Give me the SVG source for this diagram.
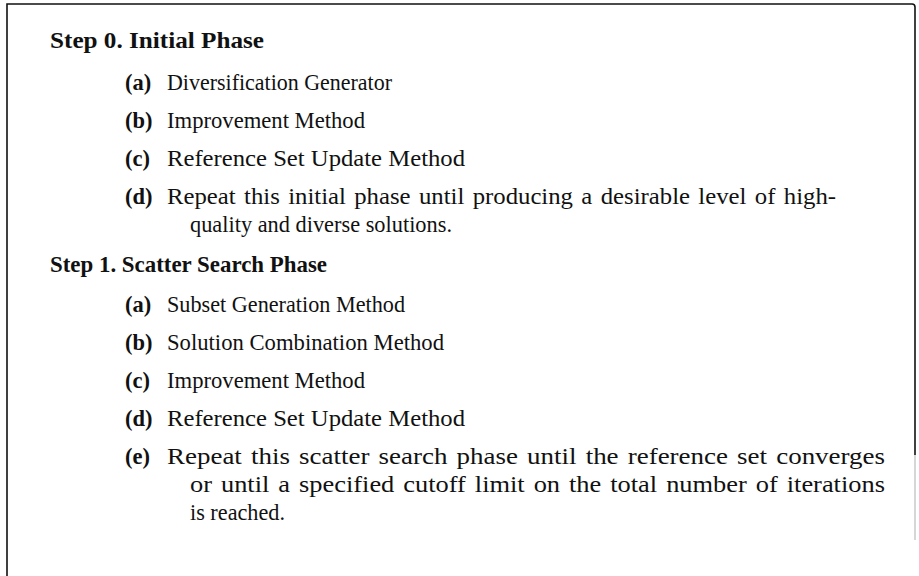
<svg xmlns="http://www.w3.org/2000/svg" width="919" height="576" viewBox="0 0 919 576">
<style>
text{font-family:"Liberation Serif","DejaVu Serif",serif;font-size:22.5px;fill:#111}
.b{font-weight:bold}
.j{word-spacing:2px}
.frame{fill:none;stroke:#111;stroke-width:1.6}
</style>
<rect width="919" height="576" fill="#fff"/>
<g id="frame">
<path class="frame" d="M7,576 V4 H912 Q915,4 915,7 V455"/>
<path d="M915,455 V540" fill="none" stroke="#bbb" stroke-width="1.2"/>
</g>
<g id="step0">
<text class="b" x="50" y="48" textLength="214" lengthAdjust="spacingAndGlyphs">Step 0.  Initial Phase</text>
<text class="b" x="125" y="90">(a)</text><text x="167" y="90" textLength="225" lengthAdjust="spacingAndGlyphs">Diversification Generator</text>
<text class="b" x="125" y="128">(b)</text><text x="167" y="128" textLength="198" lengthAdjust="spacingAndGlyphs">Improvement Method</text>
<text class="b" x="125" y="166">(c)</text><text x="167" y="166" textLength="298" lengthAdjust="spacingAndGlyphs">Reference Set Update Method</text>
<text class="b" x="125" y="204">(d)</text><text class="j" x="167" y="204" textLength="669" lengthAdjust="spacingAndGlyphs">Repeat this initial phase until producing a desirable level of high-</text>
<text x="190" y="232" textLength="262" lengthAdjust="spacingAndGlyphs">quality and diverse solutions.</text>
</g>
<g id="step1">
<text class="b" x="50" y="272" textLength="277" lengthAdjust="spacingAndGlyphs">Step 1.  Scatter Search Phase</text>
<text class="b" x="125" y="312">(a)</text><text x="167" y="312" textLength="238" lengthAdjust="spacingAndGlyphs">Subset Generation Method</text>
<text class="b" x="125" y="350">(b)</text><text x="167" y="350" textLength="277" lengthAdjust="spacingAndGlyphs">Solution Combination Method</text>
<text class="b" x="125" y="388">(c)</text><text x="167" y="388" textLength="198" lengthAdjust="spacingAndGlyphs">Improvement Method</text>
<text class="b" x="125" y="426">(d)</text><text x="167" y="426" textLength="298" lengthAdjust="spacingAndGlyphs">Reference Set Update Method</text>
<text class="b" x="125" y="464">(e)</text><text class="j" x="167" y="464" textLength="718" lengthAdjust="spacingAndGlyphs">Repeat this scatter search phase until the reference set converges</text>
<text class="j" x="190" y="492" textLength="695" lengthAdjust="spacingAndGlyphs">or until a specified cutoff limit on the total number of iterations</text>
<text x="190" y="520" textLength="95" lengthAdjust="spacingAndGlyphs">is reached.</text>
</g>
</svg>
